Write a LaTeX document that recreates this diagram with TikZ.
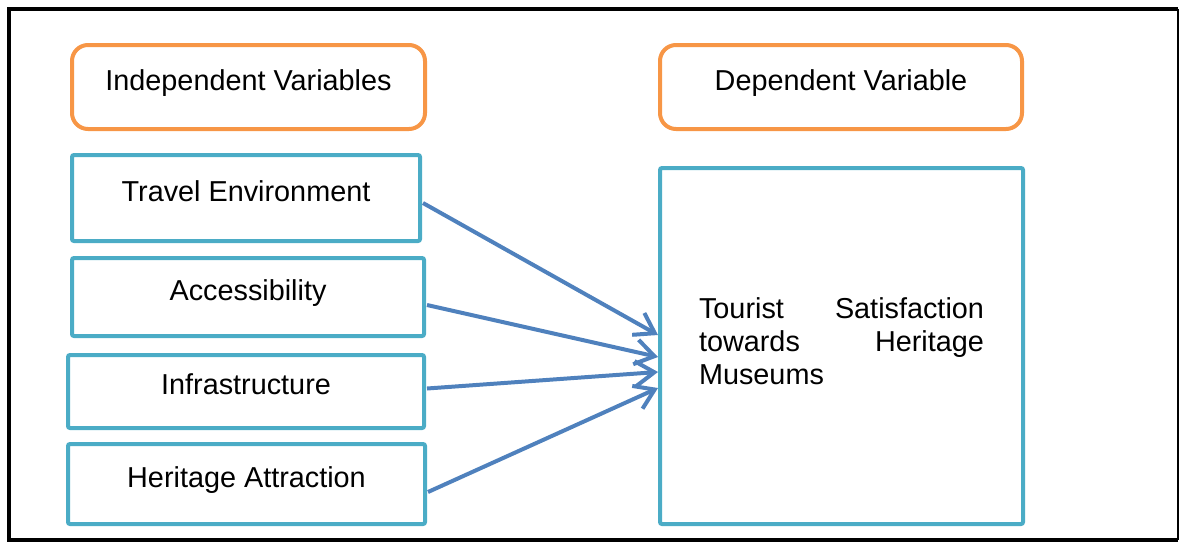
\documentclass[tikz,border=0pt]{standalone}
\usepackage{fontspec}
\setmainfont{Liberation Sans}
\usetikzlibrary{arrows.meta,calc}

\definecolor{headOrange}{HTML}{F79646}
\definecolor{boxCyan}{HTML}{4BACC6}
\definecolor{arrowBlue}{HTML}{4F81BD}

\begin{document}
\begin{tikzpicture}
[x=0.02cm,y=-0.02cm,
  font=\fontsize{16.4}{18.8}\selectfont,
  frameDecorate/.style={draw=black,line width=0.08cm},
  headDecorate/.style={shape=rectangle,draw=headOrange,line width=0.08cm,rounded corners=0.32cm},
  varDecorate/.style={shape=rectangle,draw=boxCyan,line width=0.08cm,rounded corners=0.04cm},
  oneLine/.style={text height=12pt,text depth=8.2pt},
  arrowDecorate/.style={draw=arrowBlue,line width=0.08cm,-{Straight Barb[length=0.38cm,width=0.5cm]}}]
\useasboundingbox (0,0) rectangle (1181,542);
%% outer frame
\draw[frameDecorate] (1178,9) -- (9,9) -- (9,540) -- (1178,540);
\draw[frameDecorate,line width=0.04cm] (1178,9) -- (1178,540);
%% headings
\foreach \nodename/\x/\y/\w/\h/\txt in {
  indep/248.5/87/353/84/Independent Variables,
  dep/841/87/362/84/Dependent Variable}
{
  \node (\nodename) at (\x,\y) [headDecorate,oneLine,minimum width=\w*0.02cm,minimum height=\h*0.02cm] {\txt};
}
%% independent variables
\foreach \nodename/\x/\y/\w/\h/\txt in {
  trav/246/198/348/86/Travel Environment,
  acc/248/297/352/78/Accessibility,
  infra/246/391.5/356/73/Infrastructure,
  herit/246.5/484/357/80/Heritage Attraction}
{
  \node (\nodename) at (\x,\y) [varDecorate,oneLine,minimum width=\w*0.02cm,minimum height=\h*0.02cm] {\txt};
}
%% dependent variable
\node (sat) at (841.5,346) [varDecorate,minimum width=363*0.02cm,minimum height=356*0.02cm,
  text width=5.7cm,align=left]
  {Tourist\hfill Satisfaction\\towards\hfill Heritage\\Museums\strut};
%% arrows
\foreach \src/\dy/\ey in {
  trav/5/-11, acc/8/11, infra/-3/26, herit/8/42}
{
  \draw[arrowDecorate] ($(\src.east)+(1,\dy)$) -- ($(sat.west)+(0,\ey)$);
}
\end{tikzpicture}
\end{document}
